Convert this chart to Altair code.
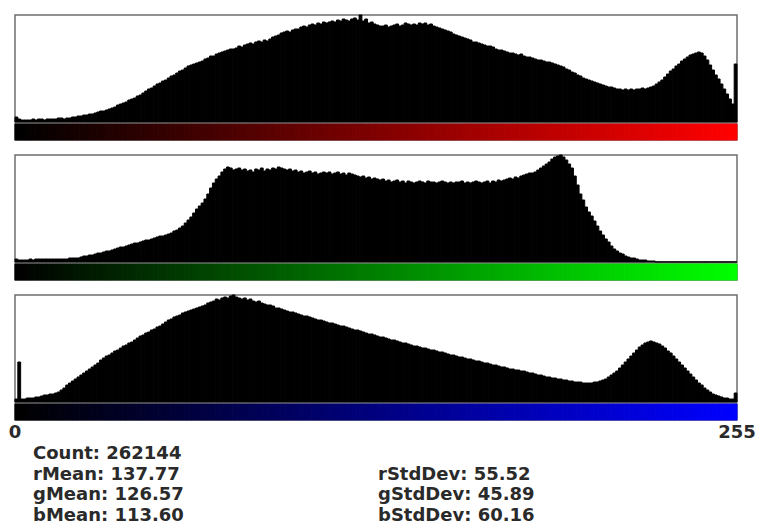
import altair as alt
import pandas as pd

# ---- data (relative counts per bin, 256 bins) ----
RED = [
    5, 3, 2, 2, 2, 2, 3, 2, 3, 3, 2, 3, 3, 3, 3, 4,
    4, 3, 4, 4, 5, 5, 6, 6, 7, 7, 8, 8, 9, 10, 11, 11,
    12, 13, 14, 15, 17, 18, 19, 20, 22, 23, 24, 26, 27, 29, 31, 33,
    34, 36, 38, 39, 41, 42, 44, 46, 47, 49, 51, 52, 54, 56, 57, 58,
    59, 60, 61, 63, 64, 66, 66, 68, 69, 70, 71, 72, 73, 73, 74, 76,
    75, 77, 78, 79, 78, 80, 81, 80, 82, 81, 83, 85, 86, 87, 89, 90,
    91, 90, 92, 93, 93, 95, 96, 95, 97, 98, 97, 99, 98, 100, 99, 100,
    101, 100, 102, 101, 103, 102, 101, 103, 104, 102, 107, 101, 103, 99, 100, 98,
    97, 96, 96, 97, 95, 96, 97, 98, 96, 97, 99, 98, 97, 98, 97, 99,
    98, 99, 97, 98, 96, 95, 94, 93, 92, 91, 90, 88, 87, 86, 85, 84,
    83, 82, 80, 80, 79, 78, 77, 76, 76, 75, 73, 72, 72, 71, 70, 69,
    69, 68, 67, 68, 66, 65, 65, 64, 63, 62, 62, 61, 60, 60, 59, 58,
    57, 56, 55, 53, 52, 50, 49, 47, 46, 44, 43, 42, 41, 40, 39, 38,
    37, 36, 35, 35, 34, 33, 33, 32, 33, 32, 33, 32, 33, 33, 34, 33,
    34, 35, 36, 38, 40, 42, 45, 48, 51, 53, 56, 58, 61, 63, 65, 67,
    68, 69, 70, 69, 66, 62, 57, 52, 47, 43, 38, 33, 28, 23, 18, 58,
]

GREEN = [
    3, 2, 2, 2, 2, 3, 2, 3, 3, 3, 3, 3, 3, 3, 3, 3,
    3, 3, 3, 4, 4, 4, 4, 5, 6, 6, 7, 7, 8, 9, 9, 10,
    11, 11, 12, 13, 14, 15, 15, 16, 17, 18, 19, 19, 20, 21, 22, 22,
    23, 24, 25, 26, 26, 27, 28, 29, 31, 32, 34, 36, 39, 42, 45, 49,
    53, 56, 59, 63, 68, 74, 79, 83, 86, 90, 93, 95, 94, 92, 93, 94,
    92, 93, 91, 92, 90, 93, 92, 94, 91, 93, 92, 94, 93, 95, 94, 93,
    92, 93, 91, 92, 90, 91, 89, 90, 91, 89, 90, 88, 89, 90, 89, 90,
    88, 89, 90, 88, 89, 87, 89, 88, 87, 86, 85, 86, 84, 85, 83, 84,
    83, 82, 83, 81, 82, 80, 81, 82, 80, 81, 79, 81, 80, 79, 80, 81,
    80, 79, 81, 80, 80, 79, 80, 81, 80, 79, 80, 79, 80, 80, 81, 79,
    80, 79, 80, 81, 80, 79, 80, 81, 79, 81, 80, 82, 81, 82, 83, 84,
    83, 85, 84, 86, 87, 88, 89, 89, 90, 92, 94, 96, 98, 100, 103, 105,
    106, 107, 105, 102, 98, 94, 86, 77, 68, 62, 55, 50, 46, 41, 36, 31,
    27, 23, 20, 16, 13, 11, 9, 8, 6, 5, 4, 4, 3, 2, 2, 2,
    1, 1, 1, 0, 0, 0, 0, 0, 0, 0, 0, 0, 0, 0, 0, 0,
    0, 0, 0, 0, 0, 0, 0, 0, 0, 0, 0, 0, 0, 0, 0, 0,
]

BLUE = [
    3, 40, 3, 3, 4, 4, 4, 5, 5, 6, 7, 7, 8, 8, 9, 10,
    12, 14, 17, 19, 21, 23, 25, 27, 29, 31, 33, 35, 37, 39, 42, 44,
    46, 47, 49, 51, 52, 54, 56, 57, 59, 60, 62, 64, 66, 67, 69, 70,
    72, 73, 75, 76, 78, 80, 82, 83, 85, 86, 87, 89, 90, 91, 92, 93,
    94, 95, 96, 97, 99, 100, 101, 103, 102, 104, 105, 104, 106, 107, 105, 104,
    103, 104, 102, 103, 101, 100, 101, 99, 98, 97, 97, 96, 94, 94, 93, 92,
    91, 90, 90, 89, 88, 87, 86, 86, 85, 84, 83, 82, 82, 81, 80, 79,
    79, 78, 77, 76, 76, 75, 74, 73, 72, 72, 71, 70, 69, 68, 68, 67,
    66, 65, 65, 64, 63, 62, 62, 61, 60, 59, 59, 58, 57, 56, 56, 55,
    54, 54, 53, 52, 52, 51, 50, 50, 49, 48, 47, 47, 46, 45, 45, 44,
    43, 43, 42, 41, 41, 40, 39, 39, 38, 37, 37, 36, 35, 35, 34, 33,
    33, 32, 32, 31, 31, 30, 29, 29, 28, 27, 27, 26, 25, 25, 24, 24,
    23, 23, 22, 22, 21, 21, 20, 20, 20, 19, 19, 19, 19, 20, 20, 21,
    22, 23, 25, 27, 29, 31, 34, 37, 40, 43, 46, 49, 52, 55, 57, 59,
    60, 61, 60, 59, 58, 56, 54, 51, 49, 46, 43, 40, 37, 34, 31, 28,
    25, 22, 19, 17, 14, 12, 10, 8, 7, 6, 5, 4, 4, 3, 3, 9,
]

assert len(RED) == 256 and len(GREEN) == 256 and len(BLUE) == 256

BINS = list(range(256))
CHANNEL_TOP_COLORS = ["#ff0000", "#00ff00", "#0000ff"]
EDGE_LABELS = ["0", "255"]
EDGE_VALUES = [0, 256]
STATS_LABELS = ["Count: 262144", "rMean: 137.77", "gMean: 126.57", "bMean: 113.60",
                "rStdDev: 55.52", "gStdDev: 45.89", "bStdDev: 60.16"]
STATS_COLS = [0, 0, 0, 0, 1, 1, 1]
STATS_ROWS = [1, 2, 3, 4, 2, 3, 4]

# ---- layout / style ----
W = 722
HIST_H = 107
STRIP_H = 16
GAP_H = 11          # extra blank band between channel panels
FONT = "DejaVu Sans"
FS = 18
TXT = "#2a2a2a"
IND = dict(x="independent", y="independent", color="independent", stroke="independent")
NO_FRAME = alt.ViewBackground(stroke="transparent", strokeWidth=0)


def panel(values, top_color):
    df = pd.DataFrame({
        "bin": BINS,
        "bin_end": [b + 1 for b in BINS],
        "count": values,
        "base": [0] * len(BINS),
    })
    xenc = alt.X("bin:Q", scale=alt.Scale(domain=[0, 256], nice=False, zero=False), axis=None)
    hist = alt.Chart(df).mark_rect(color="black", stroke="black", strokeWidth=1.0).encode(
        x=xenc,
        x2="bin_end:Q",
        y=alt.Y("count:Q", scale=alt.Scale(domain=[0, max(values)], nice=False), axis=None),
        y2="base:Q",
    ).properties(width=W, height=HIST_H)
    cscale = alt.Scale(domain=[0, 255], range=["#000000", top_color], interpolate="rgb")
    strip = alt.Chart(df).mark_rect(strokeWidth=1.0).encode(
        x=xenc,
        x2="bin_end:Q",
        color=alt.Color("bin:Q", scale=cscale, legend=None),
        stroke=alt.Stroke("bin:Q", scale=cscale, legend=None),
    ).properties(width=W, height=STRIP_H)
    return hist, strip


def spacer():
    return alt.Chart(pd.DataFrame({"v": [0]})).mark_point(opacity=0).encode(
        x=alt.X("v:Q", axis=None), y=alt.Y("v:Q", axis=None)
    ).properties(width=W, height=GAP_H, view=NO_FRAME)


h1, s1 = panel(RED, CHANNEL_TOP_COLORS[0])
h2, s2 = panel(GREEN, CHANNEL_TOP_COLORS[1])
h3, s3 = panel(BLUE, CHANNEL_TOP_COLORS[2])

row_scale = alt.Scale(domain=[0, 4], range=[16, 99])

edge_df = pd.DataFrame({"label": EDGE_LABELS, "value": EDGE_VALUES, "row": [0, 0]})
edge = alt.Chart(edge_df).mark_text(
    font=FONT, fontSize=FS, fontWeight="bold", color=TXT, align="center", baseline="alphabetic"
).encode(
    x=alt.X("value:Q", scale=alt.Scale(domain=[0, 256], nice=False), axis=None),
    y=alt.Y("row:Q", scale=row_scale, axis=None),
    text="label:N",
)

stats_df = pd.DataFrame({"label": STATS_LABELS, "col": STATS_COLS, "row": STATS_ROWS})
stats = alt.Chart(stats_df).mark_text(
    font=FONT, fontSize=FS, fontWeight="bold", color=TXT, align="left", baseline="alphabetic"
).encode(
    x=alt.X("col:Q", scale=alt.Scale(domain=[0, 1], range=[18, 363]), axis=None),
    y=alt.Y("row:Q", scale=row_scale, axis=None),
    text="label:N",
)

bottom = alt.layer(edge, stats).resolve_scale(x="independent").properties(
    width=W, height=100, view=NO_FRAME
)

chart = (
    alt.vconcat(h1, s1, spacer(), h2, s2, spacer(), h3, s3, bottom, spacing=2, bounds="flush")
    .resolve_scale(**IND)
    .properties(padding={"left": 0, "top": 5, "right": 0, "bottom": 0}, background="white")
    .configure_view(stroke="#6e6e6e", strokeWidth=1.5)
)

chart.save("out.html", embed_options={"renderer": "svg", "actions": False})
